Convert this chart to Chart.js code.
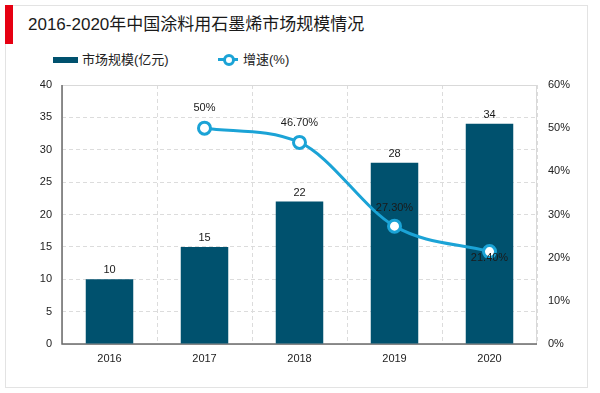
<!DOCTYPE html>
<html>
<head>
<meta charset="utf-8">
<script src="https://cdn.jsdelivr.net/npm/chart.js@4.4.1/dist/chart.umd.min.js"></script>
<style>
  html, body { margin: 0; padding: 0; background: #fff; }
  body { font-family: "Liberation Sans", "Noto Sans CJK SC", sans-serif; color: #222; }
  #wrap { position: relative; width: 600px; height: 393px; overflow: hidden; }
  #frame { position: absolute; left: 5px; top: 5px; width: 581px; height: 381px; border: 1px solid #e3e3e3; }
  #mark { position: absolute; left: 5px; top: 5px; width: 8px; height: 39px; background: #e60012; }
  #title { position: absolute; left: 28px; top: 14px; font-size: 17px; line-height: 22px; color: #1a1a1a; white-space: nowrap; }
  .leg { position: absolute; top: 51px; font-size: 13px; line-height: 18px; color: #222; white-space: nowrap; }
  .sw-bar { position: absolute; left: 53px; top: 57px; width: 25px; height: 6px; background: #00516e; }
  .sw-line { position: absolute; left: 218px; top: 58px; width: 20px; height: 3px; background: #1ba3d6; }
  .sw-dot { position: absolute; left: 223px; top: 54px; width: 6px; height: 6px; border: 3px solid #1ba3d6; border-radius: 50%; background: #fff; }
  canvas { position: absolute; left: 0; top: 0; }
</style>
</head>
<body>
<div id="wrap">
  <div id="frame"></div>
  <div id="mark"></div>
  <div id="title">2016-2020年中国涂料用石墨烯市场规模情况</div>
  <div class="sw-bar"></div>
  <div class="leg" style="left:82px">市场规模(亿元)</div>
  <div class="sw-line"></div>
  <div class="sw-dot"></div>
  <div class="leg" style="left:243px">增速(%)</div>
  <canvas id="c" width="600" height="393"></canvas>
</div>
<script>
// data
const years = ['2016', '2017', '2018', '2019', '2020'];
const marketSize = [10, 15, 22, 28, 34];          // 亿元
const growthRate = [null, 50, 46.7, 27.3, 21.4];  // %
const growthLabels = ['', '50%', '46.70%', '27.30%', '21.40%'];

const FONT = '"Liberation Sans", "Noto Sans CJK SC", sans-serif';
const BAR = '#00516e';
const LINE = '#1ba3d6';

// vertical offsets of the line value labels (px, relative to point)
const lineLabelDy = [0, -20, -19, -18, 6];

const frameAndLabels = {
  id: 'frameAndLabels',
  beforeDatasetsDraw(chart) {
    const { ctx, chartArea: a } = chart;
    ctx.save();
    ctx.strokeStyle = '#d9d9d9';
    ctx.lineWidth = 1;
    ctx.strokeRect(a.left + 0.5, a.top + 0.5, a.right - a.left - 1, a.bottom - a.top);
    ctx.strokeStyle = '#6b6b6b';
    ctx.lineWidth = 1.5;
    ctx.beginPath();
    ctx.moveTo(a.left, a.top);
    ctx.lineTo(a.left, a.bottom);
    ctx.lineTo(a.right, a.bottom);
    ctx.stroke();
    ctx.restore();
  },
  afterDatasetsDraw(chart) {
    const { ctx } = chart;
    ctx.save();
    ctx.font = '11px ' + FONT;
    ctx.fillStyle = '#1a1a1a';
    ctx.textAlign = 'center';
    ctx.textBaseline = 'middle';
    chart.getDatasetMeta(0).data.forEach((el, i) => {
      ctx.fillText(String(marketSize[i]), el.x, el.y - 9);
    });
    chart.getDatasetMeta(1).data.forEach((el, i) => {
      if (growthRate[i] == null) return;
      ctx.fillText(growthLabels[i], el.x, el.y + lineLabelDy[i]);
    });
    ctx.restore();
  }
};

new Chart(document.getElementById('c'), {
  type: 'bar',
  data: {
    labels: years,
    datasets: [
      {
        type: 'bar',
        label: '市场规模(亿元)',
        data: marketSize,
        backgroundColor: BAR,
        barPercentage: 0.5,
        categoryPercentage: 1,
        yAxisID: 'y',
        order: 2
      },
      {
        type: 'line',
        label: '增速(%)',
        data: growthRate,
        borderColor: LINE,
        borderWidth: 3,
        pointRadius: 6,
        pointBorderWidth: 3,
        pointBackgroundColor: '#fff',
        pointBorderColor: LINE,
        cubicInterpolationMode: 'monotone',
        spanGaps: true,
        yAxisID: 'y1',
        order: 1
      }
    ]
  },
  options: {
    responsive: false,
    animation: false,
    devicePixelRatio: 1,
    layout: { padding: { top: 85, left: 0, right: 0, bottom: 0 } },
    plugins: { legend: { display: false }, tooltip: { enabled: false } },
    scales: {
      x: {
        offset: true,
        grid: { display: true, offset: true, color: '#dcdcdc', drawTicks: false, tickBorderDash: [] },
        border: { display: false, dash: [4, 3] },
        ticks: { font: { size: 11, family: FONT }, color: '#222', padding: 8 },
        afterFit(s) { s.height = 49; }
      },
      y: {
        position: 'left',
        min: 0, max: 40,
        ticks: { stepSize: 5, font: { size: 11, family: FONT }, color: '#222', padding: 10 },
        grid: { color: '#dcdcdc', drawTicks: false },
        border: { display: false, dash: [4, 3] },
        afterFit(s) { s.width = 62; }
      },
      y1: {
        position: 'right',
        min: 0, max: 60,
        ticks: { stepSize: 10, callback: v => v + '%', font: { size: 11, family: FONT }, color: '#222', padding: 11 },
        grid: { display: false, drawTicks: false },
        border: { display: false },
        afterFit(s) { s.width = 63; }
      }
    }
  },
  plugins: [frameAndLabels]
});
</script>
</body>
</html>
